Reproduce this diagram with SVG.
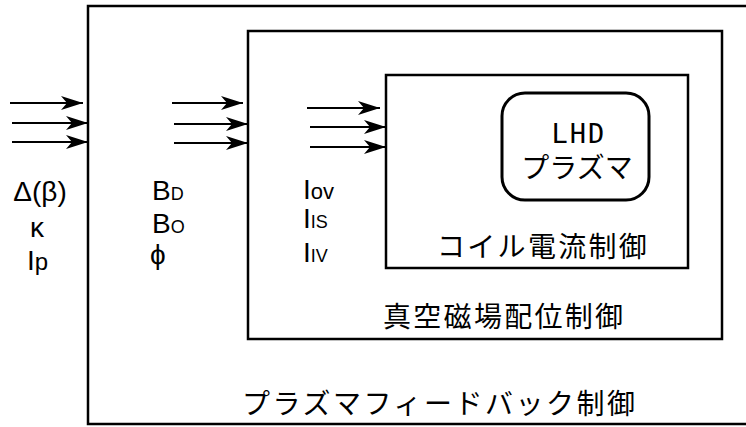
<svg xmlns="http://www.w3.org/2000/svg" width="746" height="427" viewBox="0 0 746 427">
<style>
.box{fill:none;stroke:#000;stroke-width:2.5}
.lat{font-family:"Liberation Sans",Arial,sans-serif;font-size:28px;fill:#000}
.sub{font-size:18px}
.jp{font-family:"Noto Sans CJK JP",sans-serif;font-size:28px;fill:#000}
.arr{stroke:#000;stroke-width:2;fill:none;marker-end:url(#ah)}
</style>
<defs>
<marker id="ah" viewBox="0 0 22 14" refX="22" refY="7" markerWidth="22" markerHeight="14" markerUnits="userSpaceOnUse" orient="auto">
<path d="M0,0 L22,7 L0,14 L6,7 Z" fill="#000"/>
</marker>
</defs>
<rect width="746" height="427" fill="#fff"/>
<g id="plasma-feedback">
<path class="box" d="M750,6 L88,6 L88,424 L750,424"/>
<text class="jp" x="242" y="414" font-size="31" letter-spacing="2.5">プラズマフィードバック制御</text>
</g>
<g id="vacuum-field">
<rect class="box" x="248" y="31" width="474" height="308"/>
<text class="jp" x="383" y="327" letter-spacing="2.3">真空磁場配位制御</text>
</g>
<g id="coil-current">
<rect class="box" x="386" y="75" width="302" height="193"/>
<text class="jp" x="437" y="257" letter-spacing="2.3">コイル電流制御</text>
</g>
<g id="lhd-plasma">
<rect x="502" y="93" width="147" height="107" rx="23" ry="23" fill="none" stroke="#000" stroke-width="3"/>
<text class="jp" text-anchor="middle" font-size="27"><tspan x="579" y="143" font-family="DejaVu Sans Mono,monospace" font-size="27" letter-spacing="2">LHD</tspan><tspan x="577" y="178">プラズマ</tspan></text>
</g>
<g id="connectors">
<line class="arr" x1="10" y1="103" x2="83" y2="103"/>
<line class="arr" x1="12" y1="123" x2="88" y2="123"/>
<line class="arr" x1="12" y1="142" x2="88" y2="142"/>
<line class="arr" x1="172" y1="103" x2="243" y2="103"/>
<line class="arr" x1="174" y1="124" x2="248" y2="124"/>
<line class="arr" x1="174" y1="143" x2="248" y2="143"/>
<line class="arr" x1="307" y1="108" x2="380" y2="108"/>
<line class="arr" x1="310" y1="127" x2="386" y2="127"/>
<line class="arr" x1="310" y1="147" x2="386" y2="147"/>
</g>
<g id="labels-feedback">
<text class="lat" x="40" y="201" text-anchor="middle">Δ(β)</text>
<text class="lat" x="37" y="237" text-anchor="middle">κ</text>
<text class="lat" x="27" y="270">I<tspan font-size="24">p</tspan></text>
</g>
<g id="labels-vacuum">
<text class="lat" x="152" y="200">B<tspan class="sub">D</tspan></text>
<text class="lat" x="152" y="233">B<tspan class="sub">O</tspan></text>
<text class="lat" x="150" y="264">ϕ</text>
</g>
<g id="labels-coil">
<text class="lat" x="303" y="199">I<tspan font-size="22">ov</tspan></text>
<text class="lat" x="303" y="228">I<tspan class="sub">IS</tspan></text>
<text class="lat" x="303" y="262">I<tspan class="sub">IV</tspan></text>
</g>
</svg>
